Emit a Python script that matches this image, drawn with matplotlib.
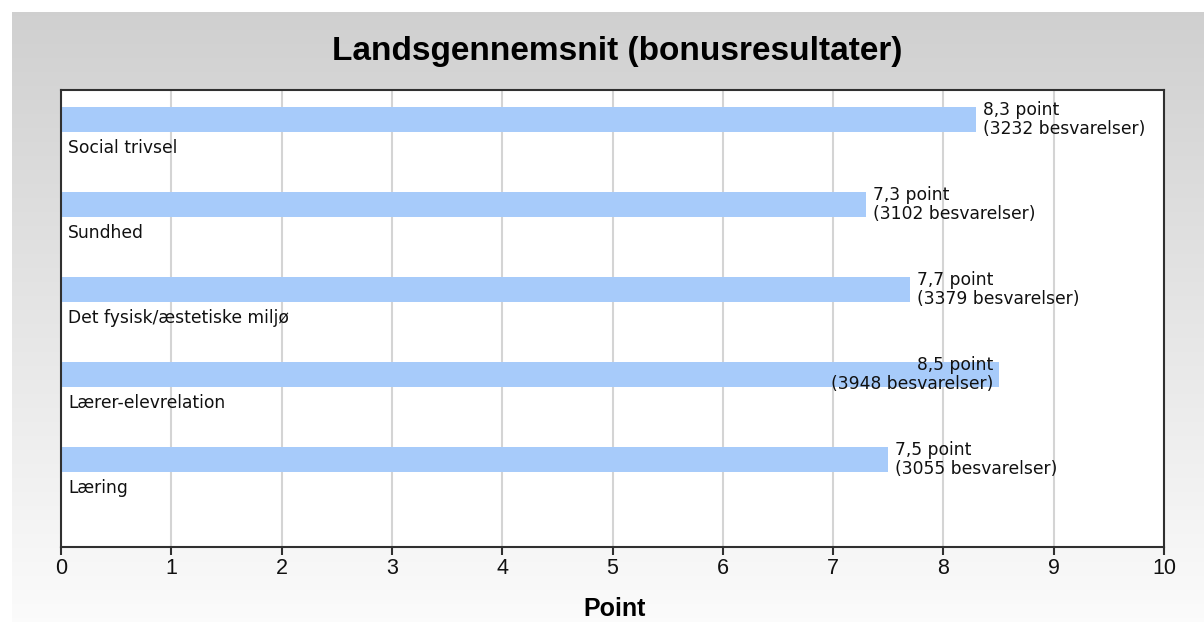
import numpy as np
import matplotlib
matplotlib.use('Agg')
from matplotlib import pyplot

# scores per area, top to bottom
areas = ['Social trivsel', 'Sundhed', 'Det fysisk/æstetiske miljø',
         'Lærer-elevrelation', 'Læring']
scores = [8.3, 7.3, 7.7, 8.5, 7.5]
responses = [3232, 3102, 3379, 3948, 3055]
ticks = [0, 1, 2, 3, 4, 5, 6, 7, 8, 9, 10]

bar_color = '#a7cbfa'
text_color = '#111111'
arial = ['Liberation Sans', 'DejaVu Sans']

if __name__ == '__main__':
    fig = pyplot.figure(figsize=(12.04, 6.22), dpi=100)
    fig.patch.set_facecolor('white')

    # grey-to-white backdrop behind the chart
    bg = fig.add_axes([12 / 1204, 0, 1 - 12 / 1204, 1 - 12 / 622], zorder=-10)
    grad = np.linspace(0.815, 0.985, 256).reshape(-1, 1)
    bg.imshow(np.dstack([grad, grad, grad]), aspect='auto', extent=[0, 1, 0, 1],
              interpolation='bicubic')
    bg.set_axis_off()

    ax = fig.add_axes([61 / 1204, 75 / 622, 1103 / 1204, 457 / 622])
    ax.set_facecolor('white')

    y = np.arange(len(areas))
    ax.barh(y, scores, height=0.294, color=bar_color, zorder=2)

    for i, (name, v, n) in enumerate(zip(areas, scores, responses)):
        ax.text(0.065, i + 0.235, name, ha='left', va='top',
                fontsize=12.3, color=text_color, zorder=3)
        label = f'{v:.1f}'.replace('.', ',') + f' point\n({n} besvarelser)'
        if v >= 8.5:
            ax.text(v - 0.05, i, label, ha='right', va='center',
                    multialignment='right', fontsize=12.3, color=text_color,
                    linespacing=1.08, zorder=3)
        else:
            ax.text(v + 0.06, i, label, ha='left', va='center',
                    fontsize=12.3, color=text_color, linespacing=1.08, zorder=3)

    ax.set_xlim(0, 10)
    ax.set_ylim(5.03, -0.347)
    ax.set_xticks(ticks)
    ax.set_yticks([])
    ax.tick_params(axis='x', length=6, width=1.5, color='#303030',
                   labelsize=15.5, labelcolor=text_color, pad=2)
    for lbl in ax.get_xticklabels():
        lbl.set_family(arial)
    ax.grid(axis='x', color='#d4d4d4', linewidth=1.5, zorder=0)
    ax.set_axisbelow(True)
    for side in ax.spines.values():
        side.set_color('#303030')
        side.set_linewidth(1.5)

    fig.text(617 / 1204, (622 - 60) / 622, 'Landsgennemsnit (bonusresultater)',
             ha='center', va='baseline', fontsize=24, fontweight='bold',
             family=arial, color='black')
    fig.text(615 / 1204, (622 - 616) / 622, 'Point', ha='center', va='baseline',
             fontsize=18, fontweight='bold', family=arial, color='black')

    fig.savefig('out.png', dpi=100, facecolor=fig.get_facecolor())
